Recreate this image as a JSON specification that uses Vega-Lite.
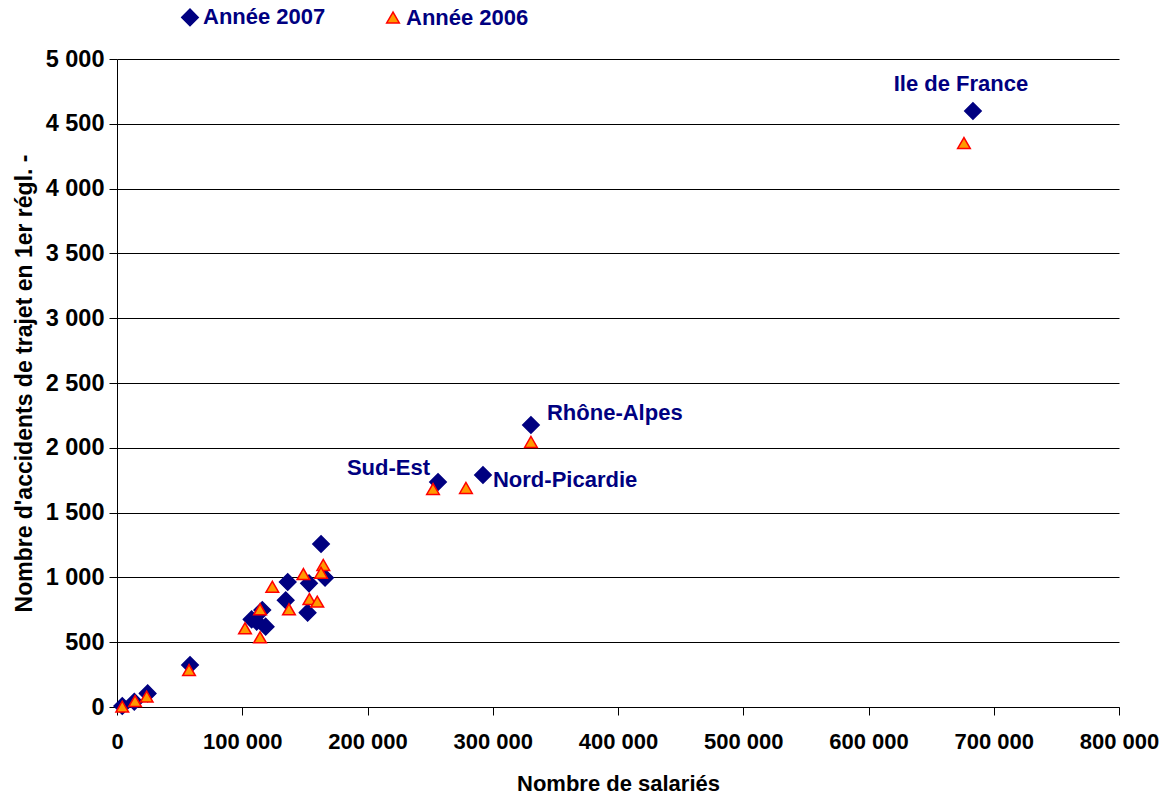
{
  "$schema": "https://vega.github.io/schema/vega-lite/v6.json",
  "width": 1002,
  "height": 648,
  "autosize": "none",
  "padding": {"left": 117, "top": 59, "right": 54, "bottom": 91},
  "background": "white",
  "config": {
    "locale": {"number": {"decimal": ",", "thousands": " ", "grouping": [3], "currency": ["", " €"]}},
    "view": {"stroke": null},
    "font": "Liberation Sans",
    "legend": {
      "title": null, "orient": "none", "direction": "horizontal",
      "legendX": 62, "legendY": -53,
      "labelFont": "Liberation Sans", "labelFontSize": 22, "labelFontWeight": "bold", "labelColor": "#000080",
      "symbolStrokeWidth": 1.5, "labelOffset": 2, "columnPadding": 56, "padding": 0
    }
  },
  "data": {
    "values": [
      {"serie": "Année 2007", "salaries": 683400, "accidents": 4599, "label": "Ile de France"},
      {"serie": "Année 2007", "salaries": 330500, "accidents": 2176, "label": "Rhône-Alpes"},
      {"serie": "Année 2007", "salaries": 256300, "accidents": 1736, "label": "Sud-Est"},
      {"serie": "Année 2007", "salaries": 292200, "accidents": 1790, "label": "Nord-Picardie"},
      {"serie": "Année 2007", "salaries": 162900, "accidents": 1258},
      {"serie": "Année 2007", "salaries": 136300, "accidents": 964},
      {"serie": "Année 2007", "salaries": 153300, "accidents": 954},
      {"serie": "Année 2007", "salaries": 166100, "accidents": 998},
      {"serie": "Année 2007", "salaries": 134700, "accidents": 823},
      {"serie": "Année 2007", "salaries": 152200, "accidents": 728},
      {"serie": "Année 2007", "salaries": 116000, "accidents": 748},
      {"serie": "Année 2007", "salaries": 107500, "accidents": 676},
      {"serie": "Année 2007", "salaries": 111500, "accidents": 658},
      {"serie": "Année 2007", "salaries": 118700, "accidents": 620},
      {"serie": "Année 2007", "salaries": 58300, "accidents": 324},
      {"serie": "Année 2007", "salaries": 24500, "accidents": 105},
      {"serie": "Année 2007", "salaries": 13800, "accidents": 41},
      {"serie": "Année 2007", "salaries": 4200, "accidents": 8},
      {"serie": "Année 2006", "salaries": 676200, "accidents": 4352},
      {"serie": "Année 2006", "salaries": 330500, "accidents": 2045},
      {"serie": "Année 2006", "salaries": 252300, "accidents": 1682},
      {"serie": "Année 2006", "salaries": 278600, "accidents": 1690},
      {"serie": "Année 2006", "salaries": 164700, "accidents": 1096},
      {"serie": "Année 2006", "salaries": 162900, "accidents": 1036},
      {"serie": "Année 2006", "salaries": 148800, "accidents": 1026},
      {"serie": "Année 2006", "salaries": 124000, "accidents": 928},
      {"serie": "Année 2006", "salaries": 153600, "accidents": 833},
      {"serie": "Année 2006", "salaries": 159900, "accidents": 813},
      {"serie": "Année 2006", "salaries": 137300, "accidents": 754},
      {"serie": "Année 2006", "salaries": 114200, "accidents": 754},
      {"serie": "Année 2006", "salaries": 102200, "accidents": 607},
      {"serie": "Année 2006", "salaries": 114200, "accidents": 538},
      {"serie": "Année 2006", "salaries": 57500, "accidents": 285},
      {"serie": "Année 2006", "salaries": 23700, "accidents": 80},
      {"serie": "Année 2006", "salaries": 14400, "accidents": 46},
      {"serie": "Année 2006", "salaries": 4200, "accidents": 3}
    ]
  },
  "encoding": {
    "x": {
      "field": "salaries", "type": "quantitative",
      "scale": {"domain": [0, 800000], "nice": false, "zero": true},
      "axis": {
        "title": "Nombre de salariés",
        "values": [0, 100000, 200000, 300000, 400000, 500000, 600000, 700000, 800000],
        "format": ",d",
        "grid": false,
        "domainColor": "#000000", "tickColor": "#000000", "tickSize": 8,
        "labelFont": "Liberation Sans", "labelFontSize": 22, "labelFontWeight": "bold", "labelColor": "#000000",
        "labelPadding": 16, "labelFlush": false, "labelOverlap": false,
        "titleFont": "Liberation Sans", "titleFontSize": 22, "titleFontWeight": "bold", "titleColor": "#000000",
        "titlePadding": 21
      }
    },
    "y": {
      "field": "accidents", "type": "quantitative",
      "scale": {"domain": [0, 5000], "nice": false},
      "axis": {
        "title": "Nombre d'accidents de trajet en 1er régl. -",
        "values": [0, 500, 1000, 1500, 2000, 2500, 3000, 3500, 4000, 4500, 5000],
        "format": ",d",
        "grid": true, "gridColor": "#000000", "gridWidth": 1,
        "domainColor": "#000000", "tickColor": "#000000", "tickSize": 8,
        "labelFont": "Liberation Sans", "labelFontSize": 23.5, "labelFontWeight": "bold", "labelColor": "#000000",
        "labelPadding": 5, "labelOverlap": false,
        "titleFont": "Liberation Sans", "titleFontSize": 23, "titleFontWeight": "bold", "titleColor": "#000000",
        "titlePadding": 9
      }
    }
  },
  "layer": [
    {
      "mark": {"type": "point", "filled": true, "opacity": 1, "strokeWidth": 1.5},
      "encoding": {
        "shape": {
          "field": "serie", "type": "nominal",
          "scale": {"domain": ["Année 2007", "Année 2006"], "range": ["diamond", "triangle-up"]}
        },
        "fill": {
          "field": "serie", "type": "nominal",
          "scale": {"domain": ["Année 2007", "Année 2006"], "range": ["#000080", "#FF9900"]}
        },
        "stroke": {
          "field": "serie", "type": "nominal",
          "scale": {"domain": ["Année 2007", "Année 2006"], "range": ["#000080", "#FF0000"]}
        },
        "size": {
          "field": "serie", "type": "nominal",
          "scale": {"domain": ["Année 2007", "Année 2006"], "range": [270, 160]}
        }
      }
    },
    {
      "transform": [{"filter": "datum.label == 'Ile de France'"}],
      "mark": {"type": "text", "font": "Liberation Sans", "fontSize": 22, "fontWeight": "bold", "color": "#000080", "align": "center", "baseline": "middle", "dx": -12, "dy": -27},
      "encoding": {"text": {"field": "label"}}
    },
    {
      "transform": [{"filter": "datum.label == 'Rhône-Alpes'"}],
      "mark": {"type": "text", "font": "Liberation Sans", "fontSize": 22, "fontWeight": "bold", "color": "#000080", "align": "left", "baseline": "middle", "dx": 16, "dy": -12},
      "encoding": {"text": {"field": "label"}}
    },
    {
      "transform": [{"filter": "datum.label == 'Sud-Est'"}],
      "mark": {"type": "text", "font": "Liberation Sans", "fontSize": 22, "fontWeight": "bold", "color": "#000080", "align": "right", "baseline": "middle", "dx": -8, "dy": -14},
      "encoding": {"text": {"field": "label"}}
    },
    {
      "transform": [{"filter": "datum.label == 'Nord-Picardie'"}],
      "mark": {"type": "text", "font": "Liberation Sans", "fontSize": 22, "fontWeight": "bold", "color": "#000080", "align": "left", "baseline": "middle", "dx": 10, "dy": 5},
      "encoding": {"text": {"field": "label"}}
    }
  ]
}
